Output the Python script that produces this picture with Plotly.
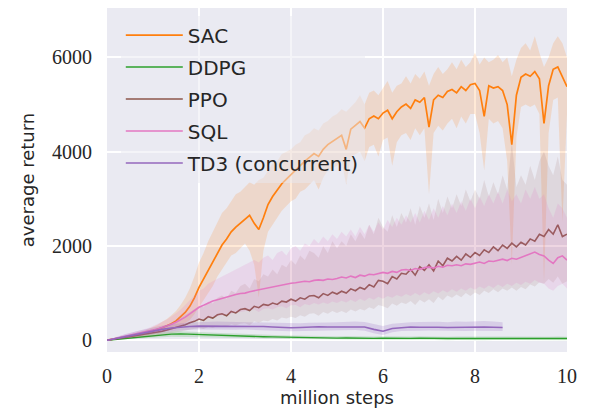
import plotly.graph_objects as go

# ---------------- data ----------------
steps = [round(i * 0.1, 1) for i in range(101)]  # million steps

sac_mean = [0, 15, 30, 45, 60, 80, 100, 120, 145, 170,
            200, 230, 265, 300, 350, 410, 490, 590, 720, 900,
            1120, 1300, 1480, 1650, 1850, 2020, 2150, 2300, 2400, 2480,
            2580, 2650, 2480, 2350, 2600, 2880, 3050, 3180, 3320, 3420,
            3520, 3600, 3700, 3800, 3880, 3960, 3900, 4050, 4150, 4220,
            4280, 4350, 4050, 4480, 4560, 4640, 4500, 4700, 4760, 4700,
            4820, 4880, 4700, 4850, 4950, 5010, 4920, 5100, 5050, 5150,
            4520, 5100, 5200, 5150, 5280, 5320, 5250, 5380, 5300, 5420,
            5450, 5300, 4750, 5400, 5350, 5380, 5300, 5000, 4150, 5200,
            5580, 5650, 5600, 5700, 5550, 4600, 5400, 5750, 5800, 5600,
            5380]
sac_upper = [0, 30, 55, 75, 95, 120, 145, 170, 200, 240,
             280, 330, 390, 450, 530, 620, 750, 900, 1100, 1350,
             1650, 1850, 2100, 2300, 2500, 2700, 2800, 2950, 3100, 3150,
             3250, 3350, 3300, 3400, 3450, 3600, 3750, 3800, 3950, 4000,
             4050, 4150, 4200, 4350, 4400, 4500, 4450, 4600, 4650, 4750,
             4800, 4900, 4850, 4950, 5050, 5200, 5000, 5250, 5300, 5200,
             5350, 5500, 5250, 5400, 5450, 5600, 5450, 5650, 5550, 5700,
             5400, 5650, 5800, 5650, 5750, 5900, 5750, 5950, 5800, 5900,
             6100, 5850, 6000, 5900, 5950, 6050, 5900, 6000, 5600, 5950,
             6200, 6300, 6150, 6450, 6100, 5800, 6000, 6300, 6450, 6300,
             6000]
sac_lower = [0, 5, 10, 20, 30, 40, 55, 70, 90, 105,
             125, 145, 165, 190, 220, 250, 300, 360, 430, 550,
             700, 850, 1000, 1150, 1350, 1500, 1650, 1800, 1850, 1950,
             2050, 1900, 1600, 900, 1900, 2300, 2450, 2600, 2750, 2850,
             2950, 3000, 3150, 3200, 3300, 3400, 3200, 3450, 3600, 3650,
             3700, 3800, 3300, 3900, 3950, 4000, 3800, 4100, 4150, 3900,
             4250, 4300, 3700, 4200, 4350, 4400, 4250, 4500, 4350, 4500,
             3100, 4400, 4550, 4450, 4600, 4700, 4500, 4750, 4600, 4800,
             4800, 4400, 3600, 4700, 4600, 4650, 4500, 3800, 1600, 4300,
             4950, 5000, 4950, 5000, 4800, 1200, 4400, 5100, 5150, 2500,
             4800]

ppo_mean = [0, 15, 30, 45, 60, 75, 90, 105, 120, 135,
            150, 170, 190, 215, 240, 270, 300, 330, 370, 400,
            450, 420, 500, 470, 540, 560, 520, 610, 580, 650,
            670, 630, 720, 690, 760, 740, 790, 760, 830, 810,
            870, 830, 900, 870, 940, 950, 900, 990, 950, 1020,
            980, 1040, 1000, 1090, 1050, 1120, 1080, 1180, 1130, 1270,
            1250, 1200, 1350, 1300, 1420, 1400, 1500, 1380, 1560, 1480,
            1600, 1470, 1680, 1580, 1740, 1680, 1780, 1700, 1830, 1760,
            1860, 1800, 1920, 1860, 1980, 1900, 2020, 1950, 2060, 1980,
            2080, 2020, 2150, 2100, 2250, 2200, 2350, 2250, 2450, 2200,
            2250]
ppo_upper = [0, 30, 55, 80, 100, 120, 140, 160, 180, 200,
             220, 250, 280, 320, 370, 420, 480, 540, 600, 650,
             720, 700, 820, 780, 900, 950, 880, 1050, 1000, 1150,
             1200, 1100, 1300, 1250, 1400, 1350, 1500, 1400, 1600, 1550,
             1700, 1600, 1800, 1700, 1900, 1850, 1750, 2000, 1850, 2100,
             1950, 2100, 2000, 2250, 2100, 2300, 2150, 2450, 2250, 2600,
             2400, 2300, 2650, 2400, 2700, 2500, 2800, 2450, 2850, 2600,
             2900, 2550, 3000, 2700, 3050, 2800, 3100, 2850, 3200, 2950,
             3200, 3000, 3400, 3050, 3350, 3100, 3500, 3200, 4200, 3250,
             3500, 3300, 3700, 3400, 3800, 4000, 3700, 3500, 3900, 3400,
             3300]
ppo_lower = [0, 5, 10, 15, 25, 35, 45, 55, 65, 75,
             85, 95, 110, 125, 140, 160, 180, 200, 220, 240,
             260, 240, 280, 260, 300, 310, 280, 340, 310, 350,
             360, 320, 400, 370, 420, 400, 450, 420, 480, 460,
             500, 470, 530, 500, 560, 570, 520, 600, 560, 620,
             580, 620, 580, 650, 610, 660, 630, 700, 660, 750,
             720, 680, 780, 730, 800, 770, 830, 750, 860, 800,
             870, 790, 920, 850, 950, 900, 970, 910, 1000, 940,
             1010, 960, 1050, 1000, 1080, 1020, 1100, 1050, 1120, 1050,
             1130, 1080, 1180, 1140, 1230, 1200, 1300, 1220, 1350, 1200,
             1250]

sql_mean = [0, 20, 40, 60, 80, 100, 120, 140, 165, 190,
            215, 240, 270, 300, 340, 380, 430, 490, 560, 630,
            700, 740, 790, 830, 860, 890, 920, 940, 970, 990,
            1000, 1030, 1050, 1070, 1100, 1110, 1130, 1150, 1180, 1190,
            1210, 1220, 1230, 1250, 1240, 1270, 1280, 1270, 1300, 1290,
            1310, 1340, 1320, 1360, 1330, 1380, 1360, 1400, 1390, 1420,
            1440, 1420, 1460, 1440, 1490, 1500, 1480, 1520, 1500, 1540,
            1550, 1530, 1570, 1550, 1590, 1580, 1600, 1580, 1620, 1610,
            1640, 1660, 1630, 1680, 1670, 1700, 1720, 1690, 1740, 1720,
            1760, 1800, 1830, 1870, 1820, 1790, 1700, 1630, 1750, 1790,
            1700]
sql_upper = [0, 35, 65, 95, 120, 145, 170, 195, 225, 260,
             300, 340, 390, 440, 500, 570, 650, 740, 850, 950,
             1050, 1100, 1200, 1250, 1300, 1350, 1400, 1450, 1500, 1550,
             1600, 1650, 1700, 1650, 1750, 1800, 1700, 1850, 1900, 1800,
             1950, 2000, 1900, 2050, 2000, 2150, 2050, 2200, 2100, 2250,
             2150, 2300, 2200, 2350, 2200, 2400, 2250, 2450, 2300, 2500,
             2350, 2550, 2400, 2600, 2450, 2650, 2500, 2700, 2500, 2750,
             2550, 2800, 2600, 2850, 2650, 2900, 2700, 2950, 2750, 3000,
             2800, 3050, 2850, 3100, 2900, 3150, 2900, 3200, 2950, 3100,
             2900, 3200, 3000, 3250, 3000, 3100, 2800, 2600, 2900, 2800,
             2600]
sql_lower = [0, 8, 16, 25, 40, 55, 70, 85, 100, 120,
             140, 160, 180, 200, 220, 250, 280, 310, 350, 390,
             430, 450, 480, 500, 520, 540, 560, 570, 590, 600,
             620, 630, 650, 600, 660, 680, 650, 700, 720, 680,
             740, 750, 700, 770, 740, 790, 760, 800, 770, 820,
             790, 840, 800, 860, 810, 880, 830, 900, 860, 920,
             880, 940, 900, 960, 920, 980, 940, 1000, 950, 1020,
             970, 1040, 990, 1060, 1010, 1080, 1030, 1100, 1050, 1120,
             1070, 1140, 1090, 1160, 1110, 1180, 1130, 1200, 1150, 1220,
             1170, 1240, 1200, 1280, 1220, 1200, 1100, 1050, 1150, 1200,
             1100]

steps_coarse = [round(i * 0.2, 1) for i in range(51)]
ddpg_mean = [0, 20, 40, 60, 80, 100, 115, 130, 135, 130,
             125, 120, 110, 105, 95, 90, 80, 75, 70, 65,
             60, 55, 55, 50, 50, 45, 48, 42, 45, 40,
             44, 38, 42, 40, 45, 38, 42, 36, 40, 38,
             42, 36, 40, 38, 35, 40, 36, 38, 34, 38,
             36]
ddpg_upper = [0, 40, 70, 100, 125, 150, 170, 185, 190, 185,
              180, 170, 160, 150, 140, 130, 120, 115, 110, 105,
              100, 95, 95, 90, 90, 85, 88, 82, 85, 80,
              84, 78, 82, 80, 85, 78, 82, 76, 80, 78,
              82, 76, 80, 78, 75, 80, 76, 78, 74, 78,
              76]
ddpg_lower = [0, 5, 15, 25, 40, 55, 65, 75, 80, 80,
              75, 70, 65, 60, 55, 50, 45, 40, 35, 30,
              25, 20, 20, 15, 15, 10, 12, 8, 10, 5,
              8, 3, 6, 5, 8, 3, 6, 0, 4, 2,
              6, 0, 4, 2, 0, 4, 0, 2, -2, 2,
              0]

td3_steps = [round(i * 0.2, 1) for i in range(44)]
td3_mean = [0, 40, 80, 120, 160, 200, 230, 260, 280, 290,
            300, 300, 305, 300, 295, 300, 295, 290, 280, 270,
            265, 270, 280, 285, 280, 280, 285, 290, 280, 230,
            190, 250, 270, 280, 275, 280, 275, 270, 275, 270,
            275, 280, 275, 270]
td3_upper = [0, 70, 130, 180, 230, 270, 310, 340, 360, 375,
             385, 390, 395, 390, 385, 390, 385, 380, 370, 360,
             355, 360, 370, 380, 375, 380, 390, 395, 385, 340,
             300, 350, 370, 380, 385, 390, 390, 380, 395, 390,
             400, 410, 395, 380]
td3_lower = [0, 15, 40, 70, 100, 130, 160, 190, 210, 220,
             225, 225, 230, 225, 220, 225, 220, 215, 205, 195,
             190, 195, 205, 210, 205, 205, 210, 215, 200, 150,
             110, 170, 195, 205, 200, 205, 200, 195, 200, 195,
             200, 205, 200, 195]

series = [
    ("SAC", steps, sac_mean, sac_upper, sac_lower, "#ff7f0e", "rgba(255,127,14,0.17)", 1.7),
    ("DDPG", steps_coarse, ddpg_mean, ddpg_upper, ddpg_lower, "#2ca02c", "rgba(44,160,44,0.18)", 1.4),
    ("PPO", steps, ppo_mean, ppo_upper, ppo_lower, "#8c564b", "rgba(140,86,75,0.12)", 1.6),
    ("SQL", steps, sql_mean, sql_upper, sql_lower, "#e377c2", "rgba(227,119,194,0.17)", 1.6),
    ("TD3 (concurrent)", td3_steps, td3_mean, td3_upper, td3_lower, "#9467bd", "rgba(148,103,189,0.22)", 1.6),
]

fig = go.Figure()
for i, (name, xs, mean, up, lo, col, fillcol, lw) in enumerate(series):
    fig.add_trace(go.Scatter(
        x=list(xs) + list(xs)[::-1], y=list(up) + list(lo)[::-1],
        fill="toself", fillcolor=fillcol, line=dict(width=0),
        mode="lines", hoverinfo="skip", showlegend=False,
    ))
    fig.add_trace(go.Scatter(
        x=xs, y=mean, mode="lines", name=name,
        line=dict(color=col, width=lw), legendgroup=str(i),
    ))

tick_font = dict(family="Liberation Serif", size=20, color="#262626")
title_font = dict(family="DejaVu Sans", size=18, color="#262626")
# the page body adds an 8px offset, so the figure is 8px smaller than the window
fig.update_layout(
    width=591, height=401,
    margin=dict(l=99, r=32, t=0, b=57),
    paper_bgcolor="white",
    plot_bgcolor="#eaeaf2",
    font=dict(family="DejaVu Sans", color="#262626"),
    showlegend=True,
    legend=dict(
        x=0.03, y=0.978, xanchor="left", yanchor="top",
        bgcolor="rgba(234,234,242,0.5)", borderwidth=0,
        font=dict(family="DejaVu Sans", size=20, color="#262626"),
        itemwidth=57, tracegroupgap=3,
    ),
    xaxis=dict(
        range=[0, 10], tickvals=[0, 2, 4, 6, 8, 10],
        showgrid=True, gridcolor="white", gridwidth=1.5,
        zeroline=False, showline=False, ticks="",
        tickfont=tick_font, ticklabelstandoff=10, automargin=False,
        title=dict(text="million steps", font=title_font, standoff=0),
    ),
    yaxis=dict(
        range=[-250, 7050], tickvals=[0, 2000, 4000, 6000],
        showgrid=True, gridcolor="white", gridwidth=1.5,
        zeroline=False, showline=False, ticks="",
        tickfont=tick_font, ticklabelstandoff=14, automargin=False,
        title=dict(text="average return", font=title_font, standoff=12),
    ),
)

fig.write_html("out.html")
